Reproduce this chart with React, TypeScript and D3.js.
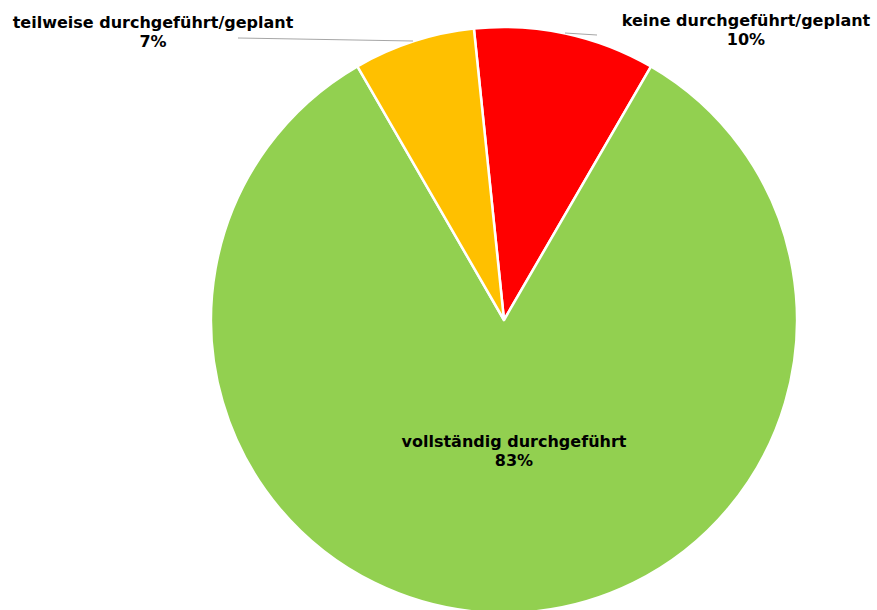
import React from "react";
import * as d3 from "d3";

const categories = ["keine durchgeführt/geplant", "vollständig durchgeführt", "teilweise durchgeführt/geplant"];
const values = [10.0, 83.3, 6.7];
const percentLabels = ["10%", "83%", "7%"];
const colors = ["#FF0000", "#92D050", "#FFC000"];

const W = 877, H = 610;
const cx = 504, cy = 320, R = 293;
const startDeg = -5.9;

// label positions (center x, first baseline)
const labelPos = [
  { x: 746, y: 26 },
  { x: 514, y: 447 },
  { x: 153, y: 28 },
];

export default function App() {
  const pie = d3.pie<number>().sort(null).value((d) => d)
    .startAngle((startDeg * Math.PI) / 180)
    .endAngle((startDeg * Math.PI) / 180 + 2 * Math.PI);
  const arcs = pie(values);
  const arc = d3.arc<d3.PieArcDatum<number>>().innerRadius(0).outerRadius(R);

  return (
    <svg width={W} height={H} style={{ position: "absolute", left: 0, top: 0 }}>
      <g transform={`translate(${cx},${cy})`}>
        {arcs.map((a, i) => (
          <path key={i} d={arc(a) || ""} fill={colors[i]} stroke="#fff" strokeWidth={2.5} strokeLinejoin="round" />
        ))}
      </g>
      {/* leader lines */}
      <line x1={238} y1={38} x2={413} y2={41} stroke="#A6A6A6" strokeWidth={1} />
      <line x1={565} y1={33} x2={597} y2={35} stroke="#A6A6A6" strokeWidth={1} />
      {labelPos.map((p, i) => (
        <text key={i} x={p.x} textAnchor="middle" fontFamily="DejaVu Sans, Verdana, sans-serif" fontWeight="bold" fontSize={16} fill="#000">
          <tspan x={p.x} y={p.y}>{categories[i]}</tspan>
          <tspan x={p.x} y={p.y + 19}>{percentLabels[i]}</tspan>
        </text>
      ))}
    </svg>
  );
}
